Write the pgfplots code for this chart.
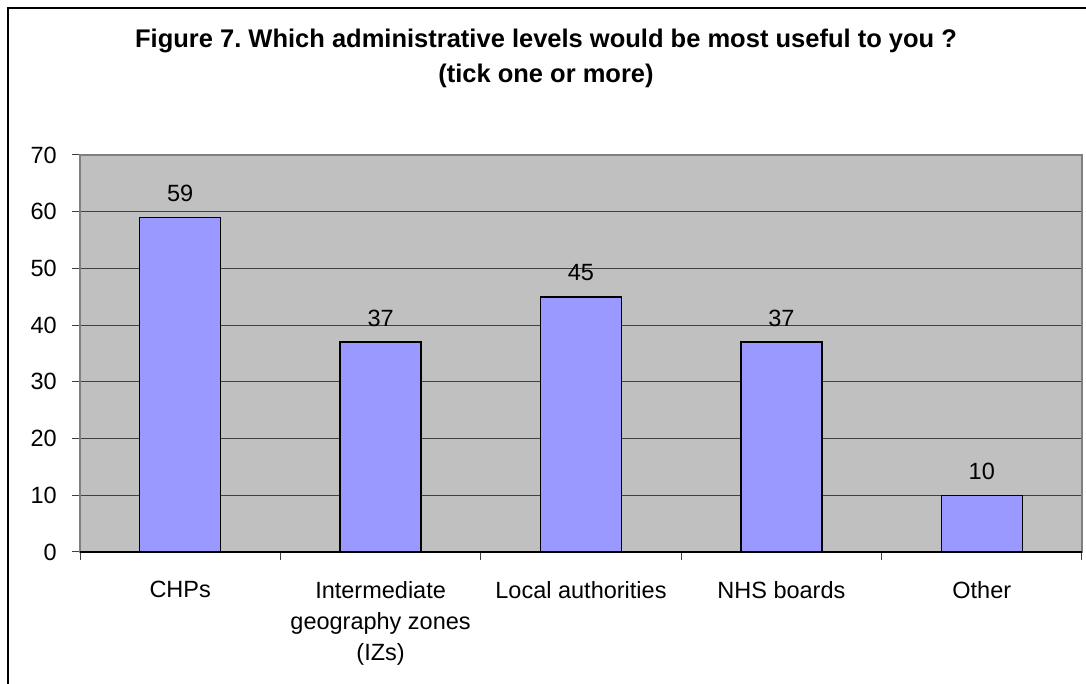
\documentclass[border=0pt]{standalone}
\usepackage{pgfplots}
\pgfplotsset{compat=1.18}
\usepackage{fontspec}
\setmainfont{Liberation Sans}
\frenchspacing
\definecolor{barfill}{HTML}{9999FF}
\definecolor{plotbg}{HTML}{C0C0C0}
\definecolor{gridc}{HTML}{404040}
\definecolor{borderc}{HTML}{808080}
\begin{document}
\begin{tikzpicture}[x=1pt,y=1pt]
\useasboundingbox (0,0) rectangle (1086,684);
\draw[line width=2pt,black] (8,-2) -- (8,676) -- (1088,676);
\node[font=\fontsize{25.5}{35}\selectfont\bfseries, align=center, anchor=center] at (546,626)
  {Figure 7. Which administrative levels would be most useful to you ?\\(tick one or more)};
\begin{axis}[
  at={(80pt,132pt)}, anchor=south west,
  scale only axis, width=1002pt, height=397pt,
  xmin=-0.5, xmax=4.5, ymin=0, ymax=70,
  axis background/.style={fill=plotbg},
  axis line style={draw=borderc, line width=1.2pt},
  ytick={0,10,...,70},
  ymajorgrids, grid style={draw=gridc, line width=1pt},
  tick align=outside, major tick length=8pt,
  xtick pos=bottom, ytick pos=left,
  tick style={draw=gridc, line width=1pt},
  /pgf/number format/assume math mode=true,
  ticklabel style={font=\fontsize{23.5}{28}\selectfont},
  yticklabel style={inner sep=0pt, xshift=-15pt},
  xtick={-0.5,0.5,...,4.5}, xticklabels={},
  extra x ticks={0,1,2,3,4},
  extra x tick labels={CHPs,{Intermediate\\geography zones\\(IZs)},Local authorities,NHS boards,Other},
  extra x tick style={major tick length=0pt, tick style={draw=none},
    xticklabel style={inner sep=0pt, yshift=-29pt, anchor=north, align=center,
      font=\fontsize{23.5}{31}\selectfont}},
  nodes near coords,
  nodes near coords style={font=\fontsize{23.5}{28}\selectfont, anchor=base, inner sep=0pt, yshift=16pt},
  clip=false,
]
\addplot[ybar, bar width=81pt, fill=barfill, draw=black, line width=1.5pt]
  coordinates {(0,59) (1,37) (2,45) (3,37) (4,10)};
\end{axis}
\draw[black, line width=1.3pt] (80,132) -- (1082,132);
\end{tikzpicture}
\end{document}
